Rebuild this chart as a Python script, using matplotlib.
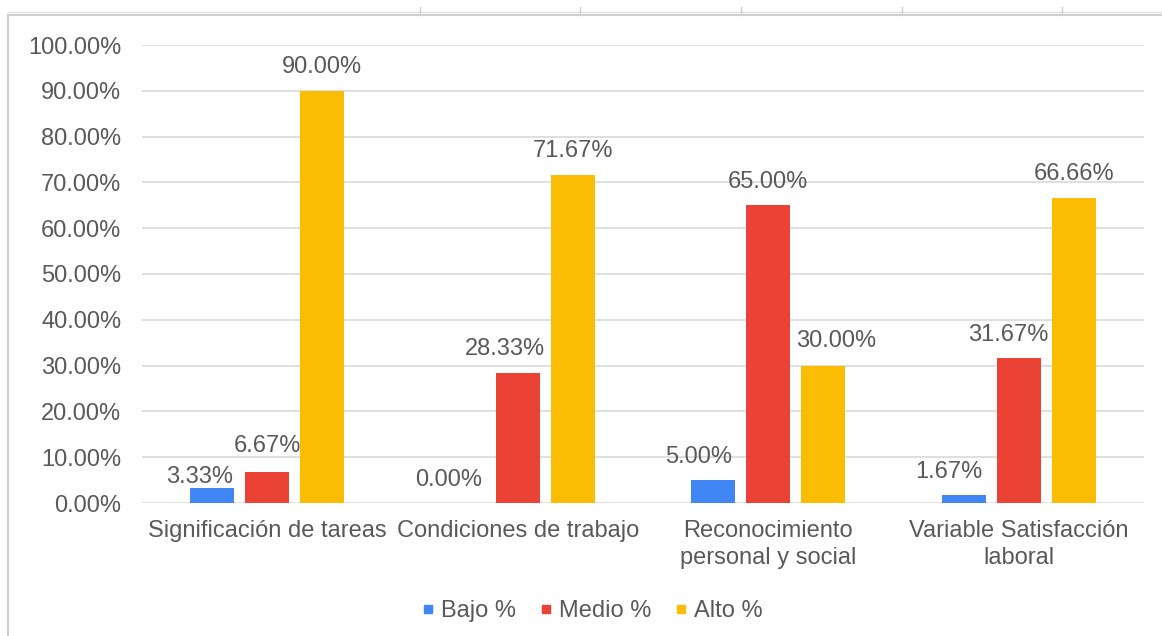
import numpy as np
import matplotlib.pyplot as plt
from matplotlib.lines import Line2D
from matplotlib.ticker import FuncFormatter

plt.rcParams['font.family'] = ['Liberation Sans', 'DejaVu Sans']

categorias = ["Significación de tareas", "Condiciones de trabajo",
              "Reconocimiento\npersonal y social", "Variable Satisfacción\nlaboral"]
series = ["Bajo %", "Medio %", "Alto %"]
bajo = [3.33, 0.00, 5.00, 1.67]
medio = [6.67, 28.33, 65.00, 31.67]
alto = [90.00, 71.67, 30.00, 66.66]
colores = ["#4285F4", "#EA4335", "#FBBC04"]
gris = "#595959"
fs = 17

# desplazamientos manuales de algunas etiquetas (serie, categoría) -> (dx, dy)
ajustes = {(0, 0): (-0.05, 2.4), (1, 0): (0.0, 5.7),
           (1, 1): (-0.05, 5.2), (2, 2): (0.05, 5.4), (1, 3): (-0.04, 5.1)}

fig = plt.figure(figsize=(11.62, 6.36), dpi=100)
ax = fig.add_axes([142/1162, 1-503/636, (1144-142)/1162, (503-45)/636])

x = np.arange(len(categorias))
w = 0.175
paso = 0.22
for i, (vals, nombre) in enumerate(zip([bajo, medio, alto], series)):
    pos = x + (i - 1) * paso
    ax.bar(pos, vals, w, color=colores[i], label=nombre, zorder=3)
    for j, (p, v) in enumerate(zip(pos, vals)):
        dx = -0.057 if i == 0 else 0.0
        dx, dy = ajustes.get((i, j), (dx, 5.1))
        ax.text(p + dx, v + dy, f"{v:.2f}%", ha="center", va="center",
                fontsize=fs, color=gris)

ax.set_ylim(0, 100)
ax.set_xlim(-0.5, len(categorias) - 0.5)
ax.set_yticks(np.arange(0, 101, 10))
ax.yaxis.set_major_formatter(FuncFormatter(lambda v, _: f"{v:.2f}%"))
ax.grid(axis="y", color="#d9d9d9", linewidth=1.2, zorder=0)
ax.set_xticks(x)
ax.set_xticklabels(categorias, fontsize=fs, color=gris, linespacing=1.3)
ax.tick_params(axis="y", labelsize=fs, labelcolor=gris, length=0, pad=15)
ax.tick_params(axis="x", length=0, pad=12)
for s in ax.spines.values():
    s.set_visible(False)

# leyenda con cuadritos pequeños
marcas = [Line2D([], [], marker="s", linestyle="none", color=c, markersize=6)
          for c in colores]
ax.legend(marcas, series, loc="upper center", bbox_to_anchor=(0.450, -0.165),
          ncol=3, frameon=False, fontsize=fs, labelcolor=gris,
          handlelength=0.4, handletextpad=0.35, columnspacing=1.05)

# marco del gráfico y líneas de la hoja de cálculo
W, H = 1162, 636
fig.add_artist(Line2D([8/W, 1], [1-15/H, 1-15/H], color="#d0d0d0", lw=1.5))
fig.add_artist(Line2D([8/W, 1], [1-12/H, 1-12/H], color="#e0e0e0", lw=1))
fig.add_artist(Line2D([8/W, 8/W], [0, 1-15/H], color="#d0d0d0", lw=1.5))
for xc in [420, 580, 741, 902, 1062]:
    fig.add_artist(Line2D([xc/W, xc/W], [1-15/H, 1-7/H], color="#d0d0d0", lw=1))

fig.savefig("out.png", dpi=100)
